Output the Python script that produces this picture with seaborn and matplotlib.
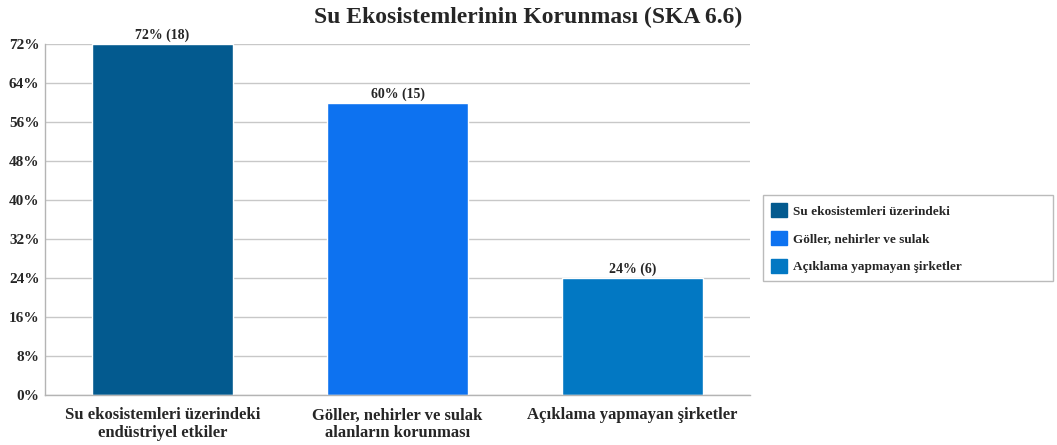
import matplotlib
matplotlib.use("Agg")
import matplotlib.pyplot as plt
import matplotlib.patches as mpatches
import seaborn as sns
import pandas as pd

categories = [
    "Su ekosistemleri üzerindeki\nendüstriyel etkiler",
    "Göller, nehirler ve sulak\nalanların korunması",
    "Açıklama yapmayan şirketler",
]
legend_labels = [
    "Su ekosistemleri üzerindeki",
    "Göller, nehirler ve sulak",
    "Açıklama yapmayan şirketler",
]
percent = [72, 60, 24]
counts = [18, 15, 6]
colors = ["#035a8f", "#0d72f0", "#0278c3"]
yticks = [0, 8, 16, 24, 32, 40, 48, 56, 64, 72]

sns.set_style("white")
plt.rcParams["font.family"] = ["Liberation Serif", "DejaVu Serif"]
plt.rcParams["font.weight"] = "bold"

df = pd.DataFrame({"cat": categories, "pct": percent})

fig = plt.figure(figsize=(10.57, 4.45), dpi=100)
ax = fig.add_axes([0.0426, 0.1124, 0.667, 0.7886])

sns.barplot(data=df, x="cat", y="pct", hue="cat", palette=colors,
            width=0.6, legend=False, ax=ax, saturation=1)

ax.set_ylim(0, 72)
ax.set_yticks(yticks)
ax.set_yticklabels([f"{t}%" for t in yticks], fontsize=11, fontweight="bold")
ax.set_xlabel("")
ax.set_ylabel("")
ax.tick_params(axis="x", labelsize=12, length=0, pad=9)
ax.tick_params(axis="y", length=0, pad=4)
for lab in ax.get_xticklabels():
    lab.set_fontweight("bold")
    lab.set_linespacing(1.15)
ax.yaxis.grid(True, color="#c8c8c8", linewidth=1)
ax.set_axisbelow(True)
for s in ["top", "right"]:
    ax.spines[s].set_visible(False)
for s in ["left", "bottom"]:
    ax.spines[s].set_color("#b4b4b4")
    ax.spines[s].set_linewidth(1)

for i, (p, c) in enumerate(zip(percent, counts)):
    ax.text(i, p + 0.4, f"{p}% ({c})", ha="center", va="bottom",
            fontsize=10, fontweight="bold")

fig.suptitle("Su Ekosistemlerinin Korunması (SKA 6.6)", x=0.5, y=0.985,
             fontsize=17, fontweight="bold", va="top")

handles = [mpatches.Patch(color=col, label=lab) for col, lab in zip(colors, legend_labels)]
leg = fig.legend(handles=handles, loc="upper left", mode="expand",
                 bbox_to_anchor=(763 / 1057, 1 - 195 / 445, 290 / 1057, 0),
                 frameon=True, fancybox=False, handlelength=1.2,
                 handleheight=1.3, handletextpad=0.5, borderpad=0.6,
                 labelspacing=1.0, borderaxespad=0,
                 prop={"weight": "bold", "size": 9.5})
leg.get_frame().set_edgecolor("#aaaaaa")
leg.get_frame().set_linewidth(1)

fig.savefig("out.png", dpi=100)
